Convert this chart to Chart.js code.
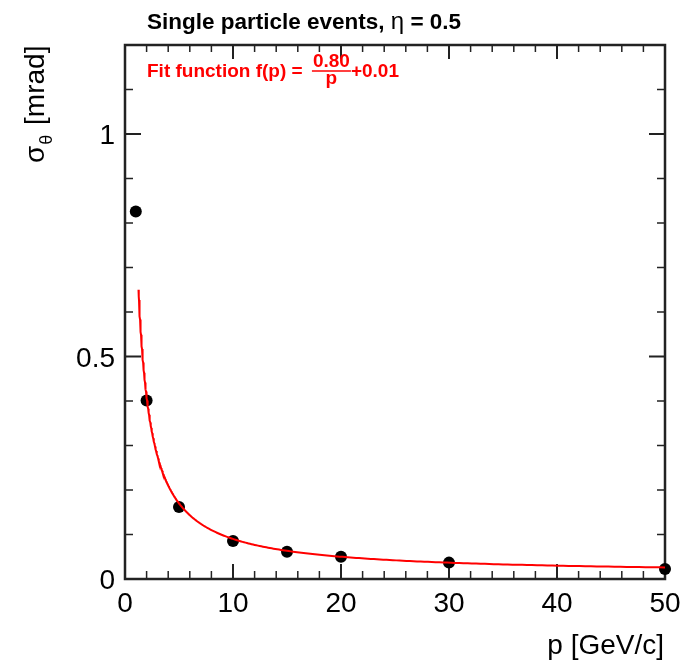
<!DOCTYPE html>
<html>
<head>
<meta charset="utf-8">
<script src="https://cdn.jsdelivr.net/npm/chart.js@4.4.1/dist/chart.umd.min.js"></script>
<style>
  body { margin: 0; background: #fff; }
  canvas { display: block; }
</style>
</head>
<body>
<canvas id="chart" width="694" height="662"></canvas>
<script>
// measured points
const momenta = [1, 2, 5, 10, 15, 20, 30, 50];
const sigmaTheta = [0.826, 0.401, 0.162, 0.0856, 0.0615, 0.050, 0.0368, 0.0225];

// fit f(p) = a/p + b, drawn over the fitted range
const fitA = 0.80;
const fitB = 0.01;
const fitRange = [1.25, 50];

const xTickLabels = [0, 10, 20, 30, 40, 50];
const yTickLabels = [0, 0.5, 1];

const FONT = '"Liberation Sans", Arial, Helvetica, sans-serif';

const fitCurve = [];
for (let i = 0; i <= 300; i++) {
    const p = fitRange[0] * Math.pow(fitRange[1] / fitRange[0], i / 300);
    fitCurve.push({x: p, y: fitA / p + fitB});
}

const points = momenta.map((p, i) => ({x: p, y: sigmaTheta[i]}));

// frame, inward ticks, labels and titles in ROOT style
const rootFrame = {
    id: 'rootFrame',
    beforeDatasetsDraw(chart) {
        const {ctx, chartArea: a, scales: {x, y}} = chart;
        ctx.save();
        ctx.strokeStyle = '#222';

        // x ticks (bottom and top)
        for (let v = 0; v <= 50; v += 2) {
            const px = x.getPixelForValue(v);
            const major = v % 10 === 0;
            const len = major ? 15 : 8;
            ctx.lineWidth = major ? 2 : 1.5;
            ctx.beginPath();
            ctx.moveTo(px, a.bottom);
            ctx.lineTo(px, a.bottom - len);
            ctx.moveTo(px, a.top);
            ctx.lineTo(px, a.top + (major ? 14 : 7));
            ctx.stroke();
        }
        // y ticks (left and right)
        for (let k = 0; k <= 12; k++) {
            const v = k / 10;
            const py = y.getPixelForValue(v);
            const major = k % 5 === 0;
            const len = major ? 16 : 8;
            ctx.lineWidth = major ? 2 : 1.5;
            ctx.beginPath();
            ctx.moveTo(a.left, py);
            ctx.lineTo(a.left + len, py);
            ctx.moveTo(a.right, py);
            ctx.lineTo(a.right - len, py);
            ctx.stroke();
        }

        ctx.lineWidth = 2.5;
        ctx.strokeRect(a.left, a.top, a.right - a.left, a.bottom - a.top);
        ctx.restore();
    },
    afterDraw(chart) {
        const {ctx, chartArea: a, scales: {x, y}} = chart;
        ctx.save();
        ctx.fillStyle = '#000';

        // tick labels
        ctx.font = '28px ' + FONT;
        ctx.textAlign = 'center';
        ctx.textBaseline = 'alphabetic';
        xTickLabels.forEach(v => {
            ctx.fillText(String(v), x.getPixelForValue(v), 612);
        });
        ctx.textAlign = 'right';
        yTickLabels.forEach(v => {
            ctx.fillText(String(v), a.left - 10, y.getPixelForValue(v) + 10);
        });

        // x title
        ctx.textAlign = 'right';
        ctx.fillText('p [GeV/c]', a.right - 1, 654);

        // y title, rotated: sigma_theta [mrad]
        ctx.save();
        ctx.translate(44, 163);
        ctx.rotate(-Math.PI / 2);
        ctx.textAlign = 'left';
        ctx.font = '28px ' + FONT;
        ctx.fillText('\u03C3', 0, 0);
        let w = ctx.measureText('\u03C3').width;
        ctx.font = '18px ' + FONT;
        ctx.fillText('\u03B8', w + 1, 8);
        w += ctx.measureText('\u03B8').width + 1;
        ctx.font = '28px ' + FONT;
        ctx.fillText(' [mrad]', w + 2, 0);
        ctx.restore();

        // title
        ctx.textAlign = 'left';
        let tx = 147;
        ctx.font = 'bold 22.5px ' + FONT;
        ctx.fillText('Single particle events, ', tx, 29);
        tx += ctx.measureText('Single particle events, ').width;
        ctx.font = '24px ' + FONT;
        ctx.fillText('\u03B7', tx, 29);
        tx += ctx.measureText('\u03B7').width;
        ctx.font = 'bold 22.5px ' + FONT;
        ctx.fillText(' = 0.5', tx, 29);

        // fit label
        ctx.fillStyle = '#ff0000';
        ctx.strokeStyle = '#ff0000';
        let fx = 147;
        ctx.font = 'bold 19px ' + FONT;
        const lead = 'Fit function f(p) = ';
        ctx.fillText(lead, fx, 77);
        fx += ctx.measureText(lead).width + 4;
        ctx.font = 'bold 19px ' + FONT;
        const num = fitA.toFixed(2);
        const fw = ctx.measureText(num).width + 2;
        ctx.textAlign = 'center';
        ctx.fillText(num, fx + fw / 2, 67);
        ctx.fillText('p', fx + fw / 2, 84);
        ctx.lineWidth = 1.5;
        ctx.beginPath();
        ctx.moveTo(fx, 71);
        ctx.lineTo(fx + fw, 71);
        ctx.stroke();
        ctx.textAlign = 'left';
        ctx.font = 'bold 19px ' + FONT;
        ctx.fillText('+' + fitB.toFixed(2), fx + fw, 77);

        ctx.restore();
    }
};

new Chart(document.getElementById('chart').getContext('2d'), {
    type: 'scatter',
    data: {
        datasets: [
            {
                label: 'fit',
                data: fitCurve,
                showLine: true,
                borderColor: '#ff0000',
                borderWidth: 2,
                pointRadius: 0,
                tension: 0,
                clip: false
            },
            {
                label: 'data',
                data: points,
                pointRadius: 6,
                pointBackgroundColor: '#000',
                pointBorderColor: '#000',
                borderWidth: 0,
                clip: false
            }
        ]
    },
    options: {
        responsive: false,
        animation: false,
        layout: {padding: {left: 125, right: 29, top: 45, bottom: 83}},
        plugins: {
            legend: {display: false},
            tooltip: {enabled: false}
        },
        scales: {
            x: {type: 'linear', min: 0, max: 50, display: false},
            y: {type: 'linear', min: 0, max: 1.2, display: false}
        }
    },
    plugins: [rootFrame]
});
</script>
</body>
</html>
